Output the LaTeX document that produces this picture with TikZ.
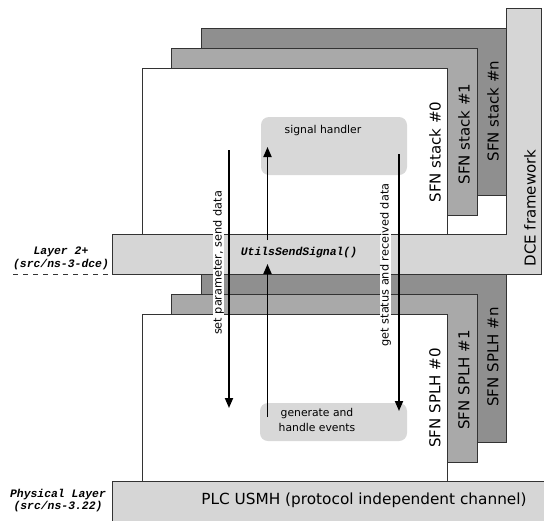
\documentclass[tikz,border=0pt]{standalone}
\usepackage{fontspec}
\setmainfont{DejaVu Sans}
\newfontfamily\codefont{Liberation Mono}
\usetikzlibrary{arrows.meta}

\definecolor{barfill}{HTML}{D6D6D6}
\definecolor{midfill}{HTML}{A9A9A9}
\definecolor{darkfill}{HTML}{8F8F8F}
\definecolor{softfill}{HTML}{D8D8D8}
\definecolor{edge}{HTML}{333333}

\begin{document}
\begin{tikzpicture}[x=1pt,y=-1pt,
  panel/.style={draw=edge, line width=0.8pt},
  sidelabel/.style={rotate=90, font=\fontsize{15}{17}\selectfont},
  flowlabel/.style={rotate=90, fill=white, inner sep=0.3pt, font=\fontsize{11.3}{13}\selectfont},
  softbox/.style={fill=softfill, rounded corners=8pt},
  codelabel/.style={font=\codefont\bfseries\itshape\fontsize{11.4}{13}\selectfont, align=center},
  flow/.style={line width=1.8pt, -{Triangle[length=10pt,width=8pt]}}]
\useasboundingbox (0,0) rectangle (544,520);

% ---- upper stacks (SFN stacks) ----
\path[panel, fill=darkfill] (201,28) rectangle (506,195);
\path[panel, fill=midfill]  (171,48) rectangle (477,215);
\path[panel, fill=white]    (142,68) rectangle (447,240);

% ---- lower stacks (SFN SPLH) ----
\path[panel, fill=darkfill] (201,270) rectangle (506,442);
\path[panel, fill=midfill]  (171,294) rectangle (477,462);
\path[panel, fill=white]    (142,314) rectangle (447,490);

% ---- DCE framework + Layer 2 bar (L-shaped) ----
\path[panel, fill=barfill]
  (112,234) -- (506,234) -- (506,8) -- (541,8) -- (541,274) -- (112,274) -- cycle;

% ---- physical layer bar ----
\path[panel, fill=barfill] (112,481) rectangle (546,524);

% ---- inner boxes ----
\path[softbox] (261,117) rectangle (407,175);
\path[softbox] (260,403) rectangle (407,441);
\node (handler) at (323,131) {\fontsize{10.8}{13}\selectfont signal handler};
\node[align=center, font=\fontsize{10.8}{14.5}\selectfont] (events) at (317,420)
  {generate and\\handle events};

% ---- side labels ----
\node[sidelabel] (s0) at (435,152) {SFN stack \#0};
\node[sidelabel] (s1) at (464,134) {SFN stack \#1};
\node[sidelabel] (sn) at (493,111) {SFN stack \#n};
\node[sidelabel] (dce) at (530,208) {DCE framework};
\node[sidelabel] (p0) at (435,398) {SFN SPLH \#0};
\node[sidelabel] (p1) at (464,380) {SFN SPLH \#1};
\node[sidelabel] (pn) at (493,357) {SFN SPLH \#n};

\node[font=\fontsize{15.3}{17}\selectfont] (plc) at (364,500)
  {PLC USMH (protocol independent channel)};

% ---- layer captions ----
\node[codelabel] (l2) at (61,258) {Layer 2+\\(src/ns-3-dce)};
\coordinate (dashL) at (13,274);
\coordinate (dashR) at (112,274);
\draw[edge, line width=0.9pt, dash pattern=on 5pt off 5pt] (dashL) -- (dashR);
\node[codelabel, font=\codefont\bfseries\itshape\fontsize{11.4}{12}\selectfont] (phy) at (58,501)
  {Physical Layer\\(src/ns-3.22)};

\node[codelabel] (sig) at (299,253) {UtilsSendSignal()};

% ---- flow arrows ----
\coordinate (aTop) at (229,150);
\coordinate (aBot) at (229,408);
\coordinate (bTop) at (399,154);
\coordinate (bBot) at (399,411);
\coordinate (cLow) at (267.5,417);
\coordinate (cMid) at (267.5,264);
\coordinate (cUp)  at (267.5,240);
\coordinate (cTop) at (267.5,147);

\draw[flow] (aTop) -- (aBot);
\draw[flow] (bTop) -- (bBot);
\draw[flow] (cLow) -- (cMid);
\draw[flow] (cUp) -- (cTop);

\node[flowlabel] (setp) at (218.5,263) {set parameter, send data};
\node[flowlabel] (gets) at (385.5,265) {get status and received data};
\end{tikzpicture}
\end{document}
